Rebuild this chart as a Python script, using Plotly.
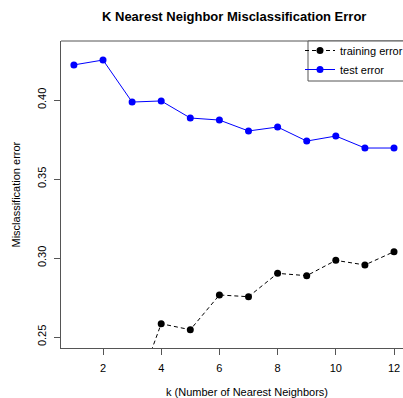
import plotly.graph_objects as go

k_values = [1, 2, 3, 4, 5, 6, 7, 8, 9, 10, 11, 12]
training_error = [0.000, 0.165, 0.208, 0.2584, 0.2546, 0.2766, 0.2755, 0.2903, 0.2888, 0.2985, 0.2956, 0.3040]
test_error = [0.4222, 0.4253, 0.3987, 0.3994, 0.3886, 0.3873, 0.3804, 0.3829, 0.3740, 0.3772, 0.3696, 0.3696]
x_ticks = [2, 4, 6, 8, 10, 12]
y_ticks = [0.25, 0.30, 0.35, 0.40]

FONT = "Liberation Sans, Arial, sans-serif"
AXC = "#555555"
L, PW, PH = 61, 342, 307  # plot-area left margin, width and height in px

fig = go.Figure()
fig.add_trace(go.Scatter(
    x=k_values, y=training_error, mode="lines+markers", name="training error",
    line=dict(color="black", width=1, dash="4px,3px"),
    marker=dict(color="black", size=7),
))
fig.add_trace(go.Scatter(
    x=k_values, y=test_error, mode="lines+markers", name="test error",
    line=dict(color="blue", width=1),
    marker=dict(color="blue", size=7),
))

fig.update_layout(
    width=403, height=398,
    margin=dict(l=L, r=0, t=41, b=50, autoexpand=False),
    paper_bgcolor="white", plot_bgcolor="white",
    font=dict(family=FONT, size=11, color="black"),
    showlegend=True,
    legend=dict(x=(300 - L) / PW, y=1.0 + 5 / PH, xanchor="left", yanchor="top",
                borderwidth=0, bgcolor="rgba(0,0,0,0)",
                font=dict(size=11), tracegroupgap=0),
    xaxis=dict(range=[0.5567, 12.309], tickvals=x_ticks, showgrid=False, zeroline=False,
               showline=True, linecolor=AXC, linewidth=1, ticks="outside",
               ticklen=6, tickcolor=AXC, tickfont=dict(size=11), ticklabelstandoff=4),
    yaxis=dict(range=[0.24304, 0.43734], tickvals=y_ticks, tickformat=".2f", showgrid=False,
               zeroline=False, showline=True, linecolor=AXC, linewidth=1, ticks="outside",
               ticklen=6, tickcolor=AXC, tickangle=-90, tickfont=dict(size=11),
               ticklabelstandoff=4),
    shapes=[
        dict(type="line", xref="paper", yref="paper", x0=0, x1=1, y0=1, y1=1,
             line=dict(color=AXC, width=1)),
        dict(type="rect", xref="paper", yref="paper",
             x0=(308 - L) / PW, x1=1.05, y0=1 - (81 - 41) / PH, y1=1,
             line=dict(color=AXC, width=1), fillcolor="white", layer="above"),
    ],
    annotations=[
        dict(text="<b>K Nearest Neighbor Misclassification Error</b>", xref="paper", yref="paper",
             x=(233.7 - L) / PW, y=1, yshift=25, xanchor="center", yanchor="middle",
             showarrow=False, font=dict(size=13)),
        dict(text="k (Number of Nearest Neighbors)", xref="paper", yref="paper",
             x=(247.5 - L) / PW, y=0, yshift=-44, xanchor="center", yanchor="middle",
             showarrow=False, font=dict(size=11)),
        dict(text="Misclassification error", xref="paper", yref="paper",
             x=0, xshift=-46, y=0.5, xanchor="center", yanchor="middle", textangle=-90,
             showarrow=False, font=dict(size=11)),
    ],
)

fig.write_html(
    "out.html",
    config={"displayModeBar": False},
    post_script="document.body.style.margin='0';document.body.style.overflow='hidden';"
                "document.documentElement.style.overflow='hidden';",
)
